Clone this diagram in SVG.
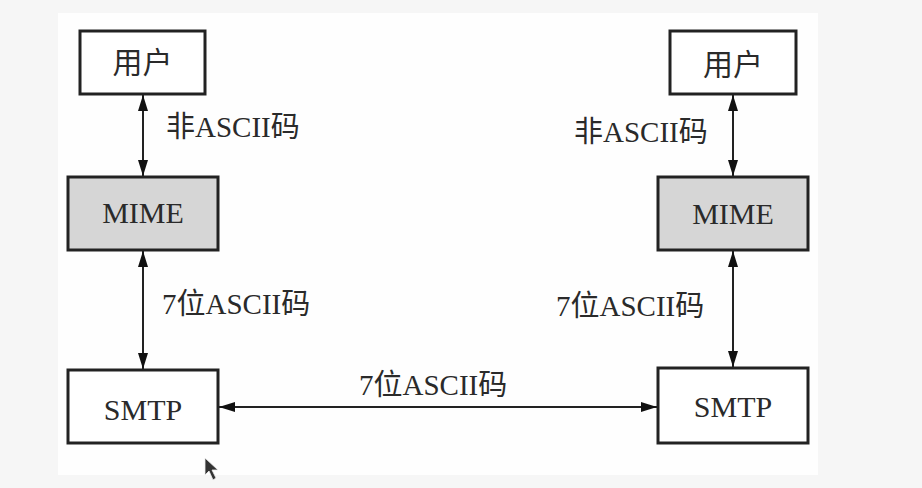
<svg xmlns="http://www.w3.org/2000/svg" width="922" height="488" viewBox="0 0 922 488">
<style>
.box{fill:#fff;stroke:#222;stroke-width:3}
.gray{fill:#d6d6d6}
.t{font-family:"Liberation Serif","Noto Sans CJK SC",serif;font-size:29px;fill:#2a2a2a}
.b{font-size:30px}
.c{text-anchor:middle}
.line{stroke:#222;stroke-width:2;fill:none;marker-start:url(#ah);marker-end:url(#ah)}
</style>
<defs>
<marker id="ah" viewBox="0 0 16 10" refX="16" refY="5" markerWidth="16" markerHeight="10" markerUnits="userSpaceOnUse" orient="auto-start-reverse">
<path d="M0,0 L16,5 L0,10 Z" fill="#111"/>
</marker>
</defs>
<rect width="922" height="488" fill="#f6f6f6"/>
<rect x="58" y="13" width="760" height="462" fill="#fefefe"/>
<g id="connectors">
<line class="line" x1="143" y1="95" x2="143" y2="176"/>
<line class="line" x1="143" y1="251" x2="143" y2="369"/>
<line class="line" x1="733" y1="95" x2="733" y2="176"/>
<line class="line" x1="733" y1="251" x2="733" y2="367"/>
<line class="line" x1="219" y1="407" x2="657" y2="407"/>
<text class="t" x="166" y="137">非ASCII码</text>
<text class="t" x="162" y="314">7位ASCII码</text>
<text class="t" x="574" y="142">非ASCII码</text>
<text class="t" x="556" y="316">7位ASCII码</text>
<text class="t" x="359" y="395">7位ASCII码</text>
</g>
<g id="user-left"><rect class="box" x="80" y="31" width="125" height="63"/><text class="t b c" x="142.5" y="73">用户</text></g>
<g id="mime-left"><rect class="box gray" x="68" y="177" width="150" height="73"/><text class="t b c" x="143" y="223">MIME</text></g>
<g id="smtp-left"><rect class="box" x="68" y="370" width="150" height="73"/><text class="t b c" x="143" y="420">SMTP</text></g>
<g id="user-right"><rect class="box" x="670" y="31" width="126" height="63"/><text class="t b c" x="733" y="75">用户</text></g>
<g id="mime-right"><rect class="box gray" x="658" y="177" width="150" height="73"/><text class="t b c" x="733" y="224">MIME</text></g>
<g id="smtp-right"><rect class="box" x="658" y="368" width="150" height="75"/><text class="t b c" x="733" y="417">SMTP</text></g>
<path d="M205,458 L205,475 L209,471 L213,480 L216,478 L212,470 L218,470 Z" fill="#333" stroke="#eee" stroke-width="0.8"/>
</svg>
